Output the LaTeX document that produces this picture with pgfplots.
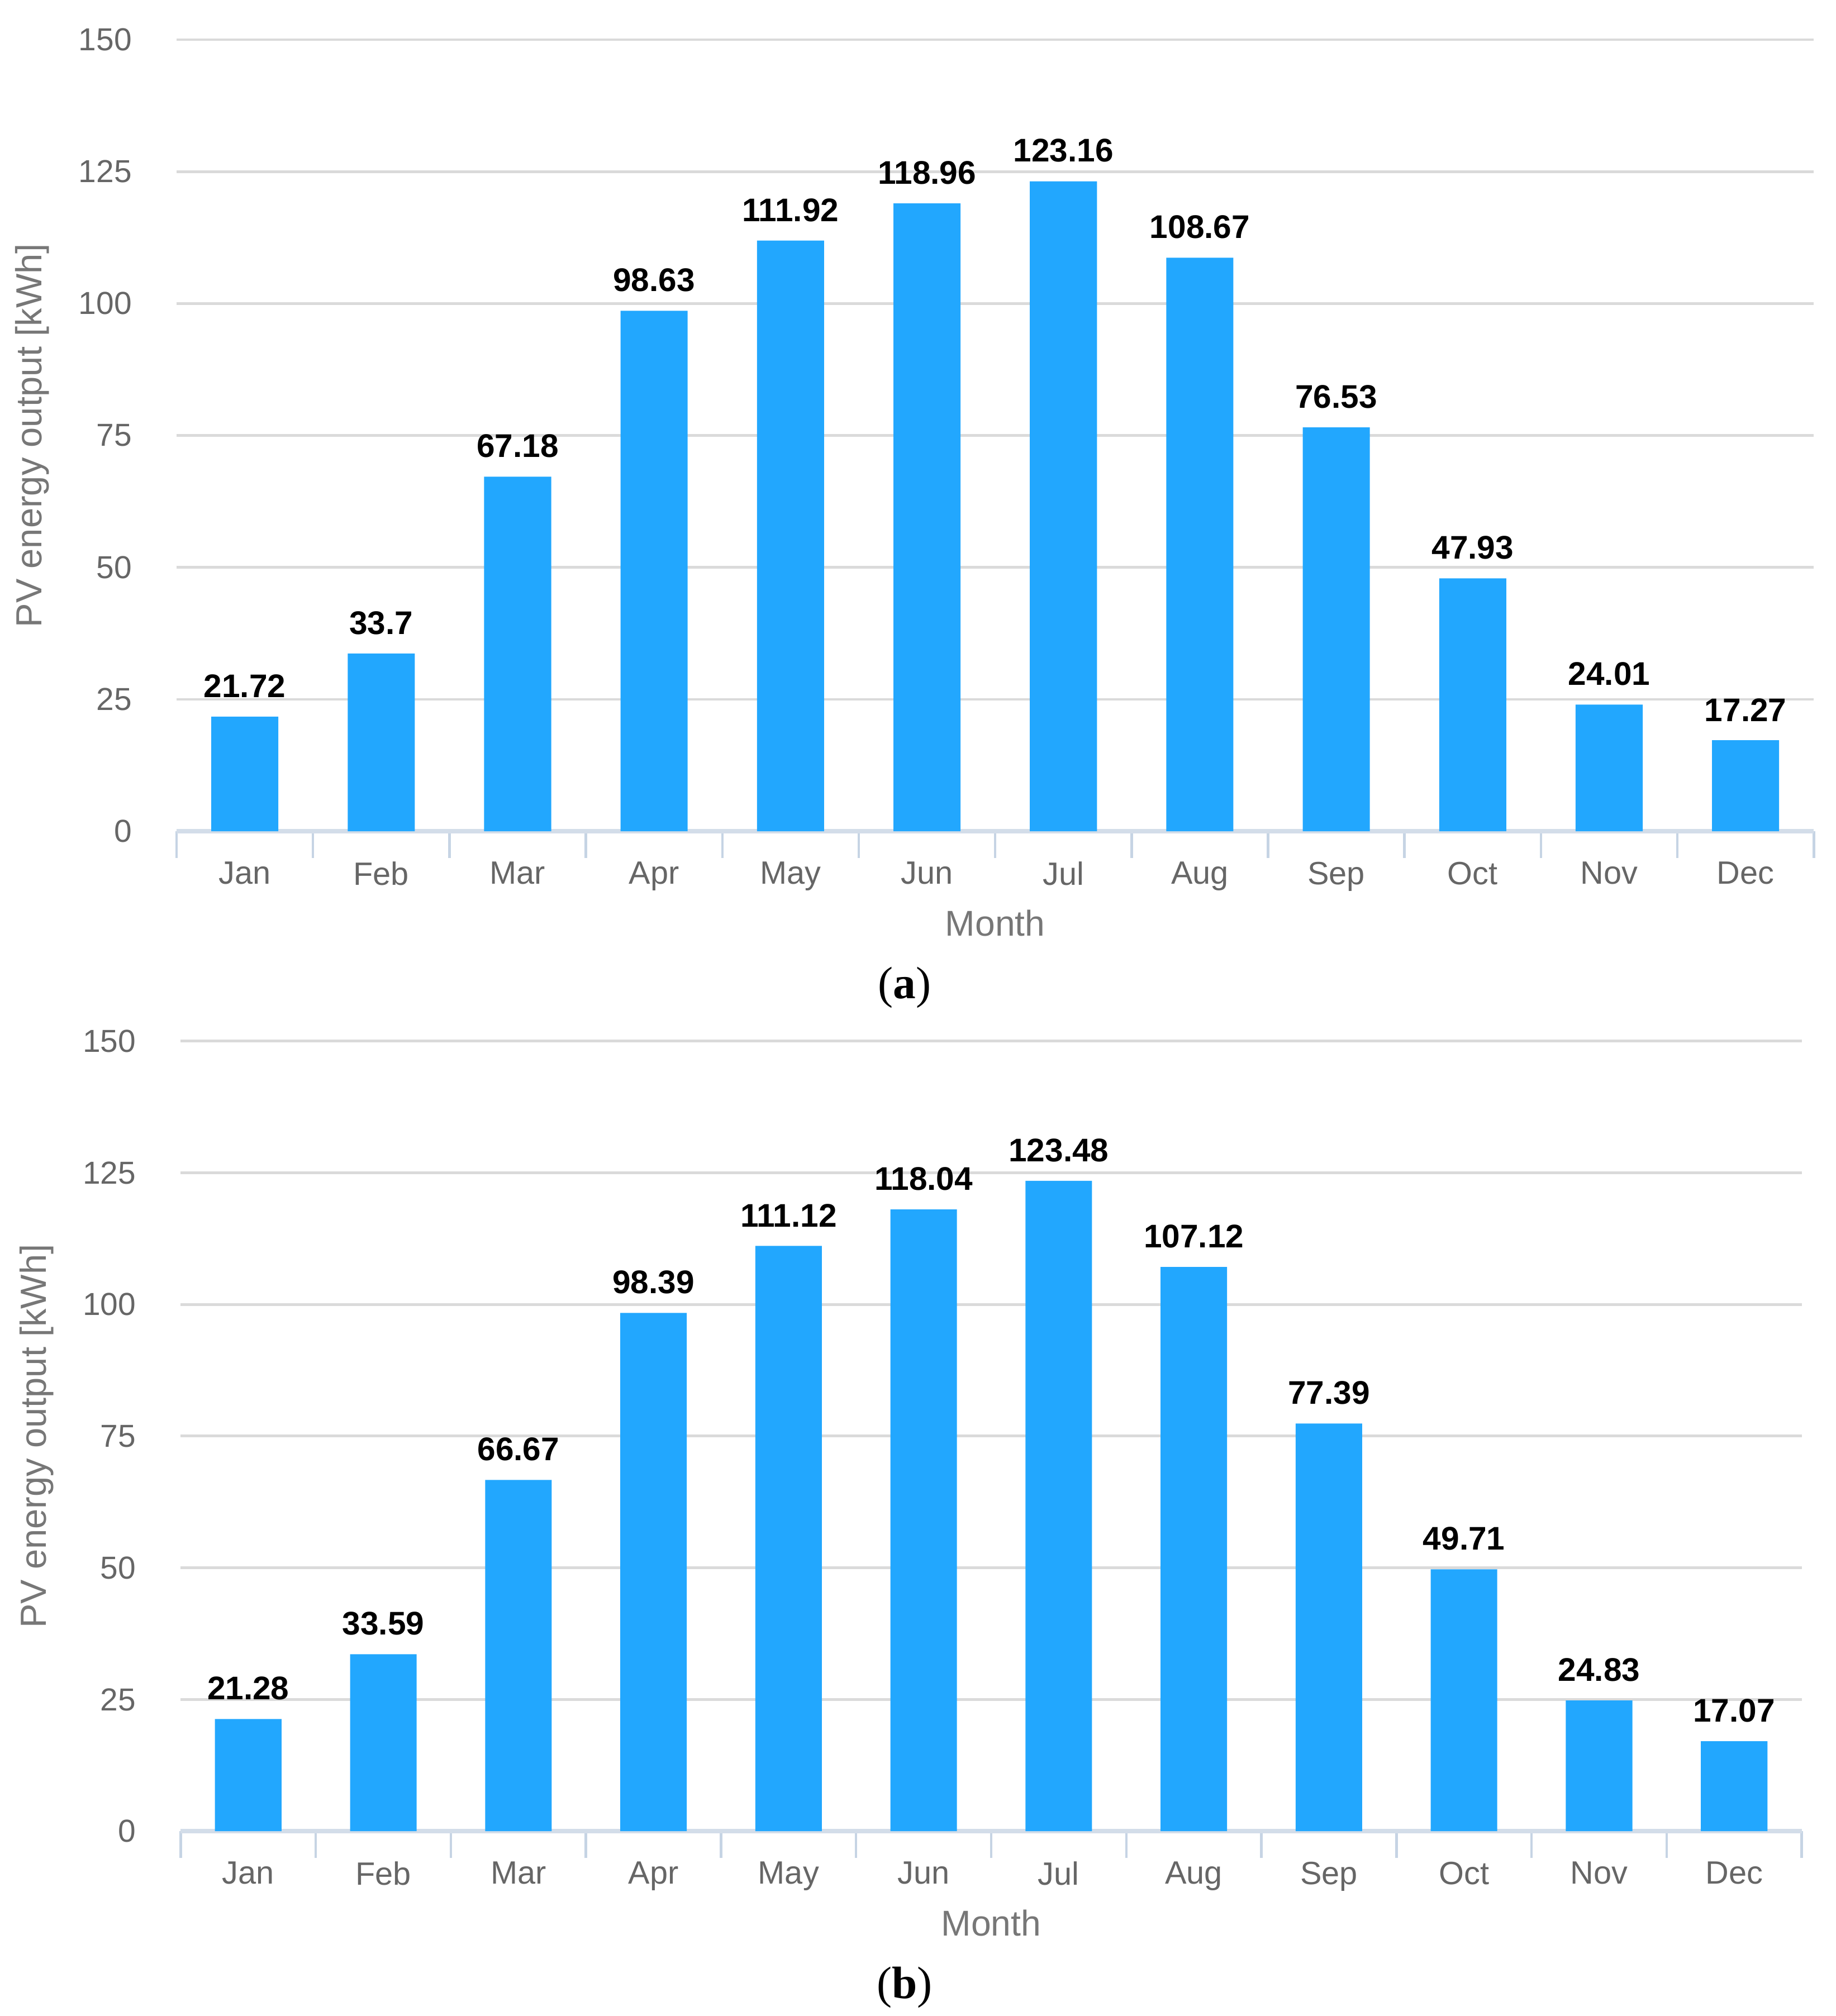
\documentclass[border=0pt]{standalone}
\usepackage{fontspec}
\setmainfont{Liberation Sans}
\newfontfamily\seriffont{Liberation Serif}
\usepackage{pgfplots}
\pgfplotsset{compat=1.18}
\definecolor{barc}{HTML}{22A7FE}
\definecolor{gridc}{HTML}{DADADA}
\definecolor{axisc}{HTML}{D3DDE9}
\definecolor{tickc}{HTML}{C6D4E4}
\definecolor{lblc}{HTML}{666666}
\definecolor{titc}{HTML}{777777}
\newcommand\fs[1]{\fontsize{#1}{#1}\selectfont}
\pgfplotsset{
  pvstyle/.style={
    scale only axis,
    ymin=0, ymax=150, ytick={0,25,...,150},
    xmin=-0.5, xmax=11.5,
    xtick={0,...,11},
    xticklabels={Jan,Feb,Mar,Apr,May,Jun,Jul,Aug,Sep,Oct,Nov,Dec},
    minor xtick={-0.5,0.5,...,11.5},
    axis x line=bottom, axis y line=left,
    x axis line style={-, draw=axisc, line width=1pt},
    y axis line style={draw=none},
    ymajorgrids, major grid style={draw=gridc, line width=0.6pt},
    major tick length=0pt, minor tick length=2.05mm, tick align=outside,
    major tick style={draw=none},
    minor tick style={draw=tickc, line width=0.55pt},
    /pgf/number format/assume math mode=true,
    yticklabel style={font=\fs{7}, text=lblc, anchor=east, inner sep=0pt, xshift=-3.4mm},
    xticklabel style={font=\fs{7.1}, text=lblc, anchor=north, inner sep=0pt, yshift=-2.3mm},
    xlabel={Month}, ylabel={PV energy output [kWh]},
    xlabel style={at={(rel axis cs:0.5,0)}, anchor=base, inner sep=0pt, yshift=-8.1mm, font=\fs{7.9}, text=titc},
    ylabel style={at={([xshift=-11.15mm]rel axis cs:0,0.5)}, anchor=center, inner sep=0pt, font=\fs{8}, text=titc},
    ybar, 
    nodes near coords, point meta=explicit symbolic,
    every node near coord/.append style={font=\bfseries\fs{7.2}, text=black, anchor=south, inner sep=0pt, yshift=1.4mm},
    clip=false,
  }
}
\begin{document}
\begin{tikzpicture}
\useasboundingbox (0,0) rectangle (142mm,156mm);
\begin{axis}[pvstyle, at={(13.66mm,91.67mm)}, anchor=south west,
  width=126.66mm, height=61.26mm, bar width=5.19mm]
\addplot[fill=barc, draw=none] coordinates {
 (0,21.72)[21.72] (1,33.7)[33.7] (2,67.18)[67.18] (3,98.63)[98.63]
 (4,111.92)[111.92] (5,118.96)[118.96] (6,123.16)[123.16] (7,108.67)[108.67]
 (8,76.53)[76.53] (9,47.93)[47.93] (10,24.01)[24.01] (11,17.27)[17.27]};
\end{axis}
\begin{axis}[pvstyle, at={(13.98mm,14.3mm)}, anchor=south west,
  width=125.4mm, height=61.14mm, bar width=5.15mm]
\addplot[fill=barc, draw=none] coordinates {
 (0,21.28)[21.28] (1,33.59)[33.59] (2,66.67)[66.67] (3,98.39)[98.39]
 (4,111.12)[111.12] (5,118.04)[118.04] (6,123.48)[123.48] (7,107.12)[107.12]
 (8,77.39)[77.39] (9,49.71)[49.71] (10,24.83)[24.83] (11,17.07)[17.07]};
\end{axis}
\node[font=\seriffont\fs{10}, anchor=base, inner sep=0pt] at (69.98mm,78.74mm) {(\textbf{a})};
\node[font=\seriffont\fs{10}, anchor=base, inner sep=0pt] at (69.98mm,1.37mm) {(\textbf{b})};
\end{tikzpicture}
\end{document}
